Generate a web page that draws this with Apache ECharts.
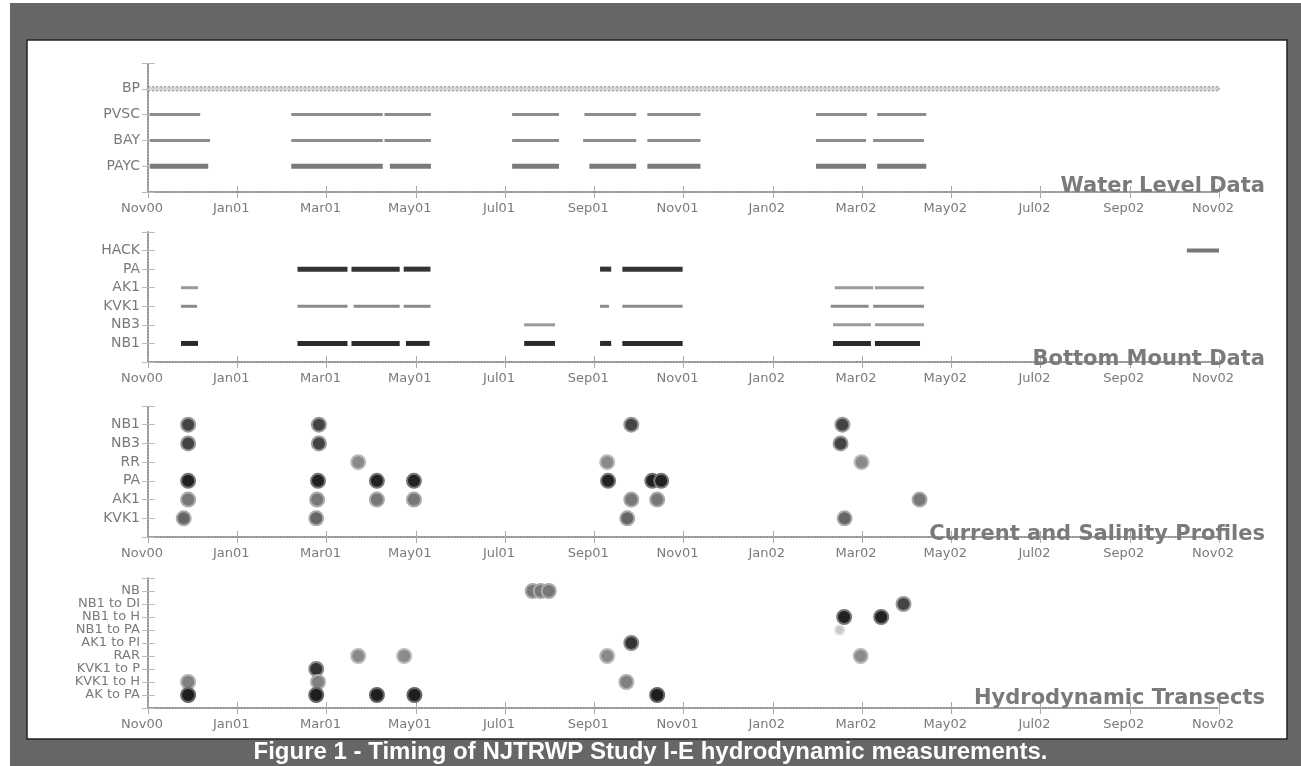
<!DOCTYPE html>
<html>
<head>
<meta charset="UTF-8">
<title>Figure 1 - Timing of NJTRWP Study I-E hydrodynamic measurements</title>
<script src="https://cdn.jsdelivr.net/npm/echarts@6/dist/echarts.min.js"></script>
<style>
  html, body { margin: 0; padding: 0; background: #fff; }
  #main { width: 1301px; height: 766px; }
</style>
</head>
<body>
<div id="main"></div>
<script>
// x axis: months after Nov 2000 (0 = Nov00, 24 = Nov02)
var monthLabels = ['Nov00','Jan01','Mar01','May01','Jul01','Sep01','Nov01','Jan02','Mar02','May02','Jul02','Sep02','Nov02'];

// Water Level Data - [start, end] in months
var wlNames = ['PAYC','BAY','PVSC','BP'];
var wlBP   = [[0.0, 24.0]];
var wlPVSC = [[0.04,1.17],[3.21,5.26],[5.30,6.34],[8.16,9.21],[9.78,10.94],[11.19,12.38],[14.97,16.11],[16.34,17.44]];
var wlBAY  = [[0.04,1.39],[3.21,5.26],[5.30,6.34],[8.16,9.21],[9.75,10.94],[11.19,12.38],[14.97,16.09],[16.25,17.39]];
var wlPAYC = [[0.04,1.35],[3.21,5.26],[5.42,6.34],[8.16,9.21],[9.89,10.94],[11.19,12.38],[14.97,16.09],[16.34,17.44]];

// Bottom Mount Data
var bmNames = ['NB1','NB3','KVK1','AK1','PA','HACK'];
var bmNB1  = [[0.74,1.12],[3.35,4.47],[4.56,5.64],[5.78,6.31],[8.43,9.12],[10.13,10.38],[10.63,11.98],[15.35,16.20],[16.29,17.30]];
var bmNB3  = [[8.43,9.12],[15.35,16.20],[16.29,17.39]];
var bmKVK1 = [[0.74,1.10],[3.35,4.47],[4.61,5.64],[5.73,6.33],[10.13,10.33],[10.63,11.98],[15.30,16.15],[16.25,17.39]];
var bmAK1  = [[0.74,1.12],[15.39,16.25],[16.29,17.39]];
var bmPA   = [[3.35,4.47],[4.56,5.64],[5.73,6.33],[10.13,10.38],[10.63,11.98]];
var bmHACK = [[23.28,24.0]];

// Current and Salinity Profiles - profile dates in months
var cpNames = ['KVK1','AK1','PA','RR','NB3','NB1'];
var cpNB1  = [0.90, 3.83, 10.83, 15.56];
var cpNB3  = [0.90, 3.83, 15.52];
var cpRR   = [4.71, 10.29, 15.99];
var cpPA   = [0.90, 3.81, 5.13, 5.96, 10.31, 11.30, 11.50];
var cpAK1  = [0.90, 3.79, 5.13, 5.96, 10.83, 11.41, 17.29];
var cpKVK1 = [0.80, 3.77, 10.74, 15.61];

// Hydrodynamic Transects
var htNames = ['AK to PA','KVK1 to H','KVK1 to P','RAR','AK1 to PI','NB1 to PA','NB1 to H','NB1 to DI','NB'];
var htAKtoPA   = [0.90, 3.77, 5.13, 5.97, 11.41];
var htKVK1toH  = [0.90, 3.81, 10.72];
var htKVK1toP  = [3.77];
var htRAR      = [4.71, 5.74, 10.29, 15.97];
var htAK1toPI  = [10.83];
var htNB1toPA  = [15.50];
var htNB1toH   = [15.60, 16.43];
var htNB1toDI  = [16.93];
var htNB       = [8.62, 8.80, 8.98];

var panels = [
    { top: 63,  height: 129, max: 5,  names: wlNames, title: 'Water Level Data',             titleTop: 171, labelSize: 14 },
    { top: 232, height: 130, max: 7,  names: bmNames, title: 'Bottom Mount Data',            titleTop: 344, labelSize: 14 },
    { top: 406, height: 131, max: 7,  names: cpNames, title: 'Current and Salinity Profiles', titleTop: 519, labelSize: 14 },
    { top: 578, height: 130, max: 10, names: htNames, title: 'Hydrodynamic Transects',       titleTop: 683, labelSize: 13 }
];

var axisGray = '#8f8f8f';
var labelGray = '#7a7a7a';

var grids = [], xAxes = [], yAxes = [], titles = [];
panels.forEach(function (p, i) {
    grids.push({ left: 148, right: 82, top: p.top, height: p.height, show: false });
    xAxes.push({
        gridIndex: i, type: 'value', min: 0, max: 24, interval: 2, position: 'bottom',
        axisLine: { lineStyle: { color: axisGray, type: 'dotted', width: 1.5 } },
        axisTick: { inside: true, length: 6, lineStyle: { color: '#aaa' } },
        axisLabel: { color: labelGray, fontSize: 13, fontFamily: 'DejaVu Sans', margin: 10,
            padding: [0, 12, 0, 0],
            formatter: function (v) { return monthLabels[Math.round(v / 2)]; } },
        splitLine: { show: false }
    });
    xAxes.push({
        gridIndex: i, type: 'value', min: 0, max: 24, interval: 2, position: 'top',
        axisLine: { lineStyle: { color: axisGray, type: 'dotted', width: 1.5 } },
        axisTick: { inside: true, length: 6, lineStyle: { color: '#aaa' } },
        axisLabel: { show: false }, splitLine: { show: false }
    });
    yAxes.push({
        gridIndex: i, type: 'value', min: 0, max: p.max, interval: 1, position: 'left',
        axisLine: { show: true, lineStyle: { color: axisGray, type: 'dotted', width: 1.5 } },
        axisTick: { show: true, inside: true, length: 7, lineStyle: { color: '#bbb' } },
        axisLabel: { color: labelGray, fontSize: p.labelSize, fontFamily: 'DejaVu Sans', margin: 8,
            formatter: function (v) { return p.names[v - 1] || ''; } },
        splitLine: { show: false }
    });
    yAxes.push({
        gridIndex: i, type: 'value', min: 0, max: p.max, interval: 1, position: 'right',
        axisLine: { show: true, lineStyle: { color: axisGray, type: 'dotted', width: 1.5 } },
        axisTick: { show: true, inside: true, length: 6, lineStyle: { color: '#bbb' } },
        axisLabel: { show: false }, splitLine: { show: false }
    });
    titles.push({
        text: p.title, right: 31, top: p.titleTop,
        textStyle: { color: '#7a7a7a', fontSize: 21, fontWeight: 'bold', fontFamily: 'DejaVu Sans' }
    });
});

// horizontal bars drawn through the axis scales
function segSeries(i, data, yv, color, h, dash) {
    return {
        type: 'custom', xAxisIndex: 2 * i, yAxisIndex: 2 * i, z: 3,
        data: data.map(function (d) { return [d[0], d[1], yv]; }),
        encode: { x: [0, 1], y: 2 },
        renderItem: function (params, api) {
            var a = api.coord([api.value(0), api.value(2)]);
            var b = api.coord([api.value(1), api.value(2)]);
            var style = { fill: color };
            if (dash) { style.stroke = dash; style.lineWidth = 1; style.lineDash = [2, 2]; }
            return { type: 'rect', shape: { x: a[0], y: a[1] - h / 2, width: b[0] - a[0], height: h },
                     style: style };
        }
    };
}

function dotSeries(i, xs, yv, color, border, size) {
    return {
        type: 'scatter', xAxisIndex: 2 * i, yAxisIndex: 2 * i, z: 3,
        symbolSize: size || 14,
        data: xs.map(function (x) { return [x, yv]; }),
        itemStyle: { color: color, borderColor: border, borderWidth: 2, opacity: 1 }
    };
}

var series = [
    segSeries(0, wlBP, 4, '#d6d6d6', 4, '#8a8a8a'),
    segSeries(0, wlPVSC, 3, '#8c8c8c', 3),
    segSeries(0, wlBAY, 2, '#8c8c8c', 3),
    segSeries(0, wlPAYC, 1, '#7a7a7a', 5),

    segSeries(1, bmHACK, 6, '#777', 4),
    segSeries(1, bmPA, 5, '#333', 5),
    segSeries(1, bmAK1, 4, '#9a9a9a', 3),
    segSeries(1, bmKVK1, 3, '#8a8a8a', 3),
    segSeries(1, bmNB3, 2, '#9a9a9a', 3),
    segSeries(1, bmNB1, 1, '#2a2a2a', 5),

    dotSeries(2, cpNB1, 6, '#444', '#999'),
    dotSeries(2, cpNB3, 5, '#444', '#999'),
    dotSeries(2, cpRR, 4, '#8a8a8a', '#bbb'),
    dotSeries(2, cpPA, 3, '#222', '#777'),
    dotSeries(2, cpAK1, 2, '#777', '#aaa'),
    dotSeries(2, cpKVK1, 1, '#666', '#aaa'),

    dotSeries(3, htNB, 9, '#777', '#aaa'),
    dotSeries(3, htNB1toDI, 8, '#444', '#999'),
    dotSeries(3, htNB1toH, 7, '#222', '#777'),
    dotSeries(3, htNB1toPA, 6, '#c8c8c8', '#e0e0e0', 9),
    dotSeries(3, htAK1toPI, 5, '#333', '#888'),
    dotSeries(3, htRAR, 4, '#8a8a8a', '#bbb'),
    dotSeries(3, htKVK1toP, 3, '#333', '#888'),
    dotSeries(3, htKVK1toH, 2, '#808080', '#b0b0b0'),
    dotSeries(3, htAKtoPA, 1, '#1e1e1e', '#666')
];

var chart = echarts.init(document.getElementById('main'));
chart.setOption({
    backgroundColor: '#fff',
    animation: false,
    title: titles,
    grid: grids,
    xAxis: xAxes,
    yAxis: yAxes,
    series: series,
    graphic: [
        { type: 'rect', z: -10, shape: { x: 10, y: 3, width: 1291, height: 763 }, style: { fill: '#666' } },
        { type: 'rect', z: -9, shape: { x: 27, y: 40, width: 1260, height: 699 }, style: { fill: '#fff', stroke: '#222', lineWidth: 1.5 } },
        { type: 'text', z: 10, left: 'center', top: 740,
          style: { text: 'Figure 1 - Timing of NJTRWP Study I-E hydrodynamic measurements.',
                   fill: '#fff', font: 'bold 24px "Liberation Sans", Arial, sans-serif' } }
    ]
});
</script>
</body>
</html>
